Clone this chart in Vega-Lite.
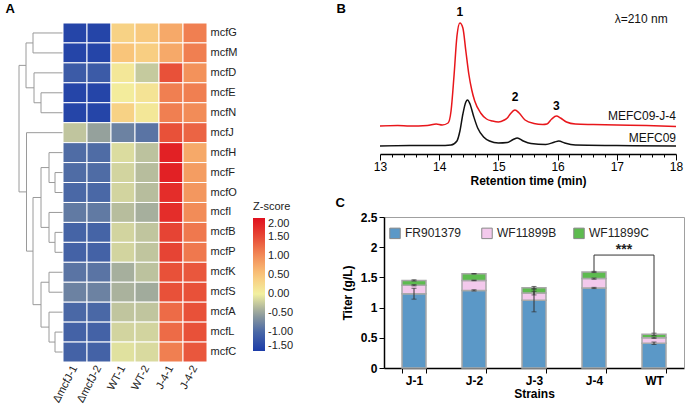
{
  "$schema": "https://vega.github.io/schema/vega-lite/v6.json",
  "width": 685,
  "height": 417,
  "padding": 0,
  "config": {
    "font": "Liberation Sans",
    "view": {"stroke": null},
    "axis": {"grid": false, "domainColor": "#000", "tickColor": "#000", "labelColor": "#000", "titleColor": "#000"}
  },
  "datasets": {
    "titer": [
      {"strain": "J-1", "compound": "FR901379", "order": 1, "value": 1.23, "err": 0.09},
      {"strain": "J-1", "compound": "WF11899B", "order": 2, "value": 0.14, "err": 0.01},
      {"strain": "J-1", "compound": "WF11899C", "order": 3, "value": 0.08, "err": 0.01},
      {"strain": "J-2", "compound": "FR901379", "order": 1, "value": 1.285, "err": 0.01},
      {"strain": "J-2", "compound": "WF11899B", "order": 2, "value": 0.165, "err": 0.005},
      {"strain": "J-2", "compound": "WF11899C", "order": 3, "value": 0.11, "err": 0.005},
      {"strain": "J-3", "compound": "FR901379", "order": 1, "value": 1.12, "err": 0.19},
      {"strain": "J-3", "compound": "WF11899B", "order": 2, "value": 0.12, "err": 0.03},
      {"strain": "J-3", "compound": "WF11899C", "order": 3, "value": 0.09, "err": 0.02},
      {"strain": "J-4", "compound": "FR901379", "order": 1, "value": 1.325, "err": 0.01},
      {"strain": "J-4", "compound": "WF11899B", "order": 2, "value": 0.155, "err": 0.01},
      {"strain": "J-4", "compound": "WF11899C", "order": 3, "value": 0.11, "err": 0.01},
      {"strain": "WT", "compound": "FR901379", "order": 1, "value": 0.41, "err": 0.02},
      {"strain": "WT", "compound": "WF11899B", "order": 2, "value": 0.09, "err": 0.01},
      {"strain": "WT", "compound": "WF11899C", "order": 3, "value": 0.057, "err": 0.02}
    ]
  },
  "resolve": {
    "scale": {"x": "independent", "y": "independent", "color": "independent", "stroke": "independent", "fill": "independent"},
    "axis": {"x": "independent", "y": "independent"}
  },
  "layer": [
    {
      "data": {"values": [
        {"h1": 0, "h2": 30, "r1": 0.5, "r2": 0.5}, {"h1": 0, "h2": 30, "r1": 1.5, "r2": 1.5}, {"h1": 30, "h2": 30, "r1": 0.5, "r2": 1.5},
        {"h1": 0, "h2": 22, "r1": 3.5, "r2": 3.5}, {"h1": 0, "h2": 22, "r1": 4.5, "r2": 4.5}, {"h1": 22, "h2": 22, "r1": 3.5, "r2": 4.5},
        {"h1": 0, "h2": 29, "r1": 2.5, "r2": 2.5}, {"h1": 22, "h2": 29, "r1": 4.0, "r2": 4.0}, {"h1": 29, "h2": 29, "r1": 2.5, "r2": 4.0},
        {"h1": 30, "h2": 37, "r1": 1.0, "r2": 1.0}, {"h1": 29, "h2": 37, "r1": 3.25, "r2": 3.25}, {"h1": 37, "h2": 37, "r1": 1.0, "r2": 3.25},
        {"h1": 0, "h2": 8, "r1": 7.5, "r2": 7.5}, {"h1": 0, "h2": 8, "r1": 8.5, "r2": 8.5}, {"h1": 8, "h2": 8, "r1": 7.5, "r2": 8.5},
        {"h1": 0, "h2": 14, "r1": 6.5, "r2": 6.5}, {"h1": 8, "h2": 14, "r1": 8.0, "r2": 8.0}, {"h1": 14, "h2": 14, "r1": 6.5, "r2": 8.0},
        {"h1": 0, "h2": 8, "r1": 10.5, "r2": 10.5}, {"h1": 0, "h2": 8, "r1": 11.5, "r2": 11.5}, {"h1": 8, "h2": 8, "r1": 10.5, "r2": 11.5},
        {"h1": 0, "h2": 14, "r1": 9.5, "r2": 9.5}, {"h1": 8, "h2": 14, "r1": 11.0, "r2": 11.0}, {"h1": 14, "h2": 14, "r1": 9.5, "r2": 11.0},
        {"h1": 14, "h2": 22, "r1": 7.25, "r2": 7.25}, {"h1": 14, "h2": 22, "r1": 10.25, "r2": 10.25}, {"h1": 22, "h2": 22, "r1": 7.25, "r2": 10.25},
        {"h1": 0, "h2": 14, "r1": 12.5, "r2": 12.5}, {"h1": 0, "h2": 14, "r1": 13.5, "r2": 13.5}, {"h1": 14, "h2": 14, "r1": 12.5, "r2": 13.5},
        {"h1": 0, "h2": 8, "r1": 15.5, "r2": 15.5}, {"h1": 0, "h2": 8, "r1": 16.5, "r2": 16.5}, {"h1": 8, "h2": 8, "r1": 15.5, "r2": 16.5},
        {"h1": 0, "h2": 14, "r1": 14.5, "r2": 14.5}, {"h1": 8, "h2": 14, "r1": 16.0, "r2": 16.0}, {"h1": 14, "h2": 14, "r1": 14.5, "r2": 16.0},
        {"h1": 14, "h2": 22, "r1": 13.0, "r2": 13.0}, {"h1": 14, "h2": 22, "r1": 15.25, "r2": 15.25}, {"h1": 22, "h2": 22, "r1": 13.0, "r2": 15.25},
        {"h1": 22, "h2": 30, "r1": 8.75, "r2": 8.75}, {"h1": 22, "h2": 30, "r1": 14.125, "r2": 14.125}, {"h1": 30, "h2": 30, "r1": 8.75, "r2": 14.125},
        {"h1": 0, "h2": 36.5, "r1": 5.5, "r2": 5.5}, {"h1": 30, "h2": 36.5, "r1": 11.44, "r2": 11.44}, {"h1": 36.5, "h2": 36.5, "r1": 5.5, "r2": 11.44},
        {"h1": 37, "h2": 44, "r1": 2.125, "r2": 2.125}, {"h1": 36.5, "h2": 44, "r1": 8.47, "r2": 8.47}, {"h1": 44, "h2": 44, "r1": 2.125, "r2": 8.47}
      ]},
      "mark": {"type": "rule", "color": "#9a9a9a", "strokeWidth": 1},
      "encoding": {
        "x": {"field": "h1", "type": "quantitative", "scale": {"domain": [0, 45], "range": [63, 18], "nice": false, "zero": false},
              "axis": {"orient": "top", "offset": 0, "domain": false, "ticks": false, "labels": false, "title": "A", "titleX": 5, "titleY": 12, "titleAlign": "left", "titleBaseline": "alphabetic", "titleFontSize": 13, "titleFontWeight": "bold", "titleAngle": 0}},
        "x2": {"field": "h2"},
        "y": {"field": "r1", "type": "quantitative", "scale": {"domain": [0, 17], "range": [23, 362], "nice": false, "zero": false}, "axis": null},
        "y2": {"field": "r2"}
      }
    },
    {
      "data": {"values": [
        {"g": "mcfG", "s": "ΔmcfJ-1", "z": -1.4}, {"g": "mcfG", "s": "ΔmcfJ-2", "z": -1.4}, {"g": "mcfG", "s": "WT-1", "z": 0.35}, {"g": "mcfG", "s": "WT-2", "z": 0.45}, {"g": "mcfG", "s": "J-4-1", "z": 0.75}, {"g": "mcfG", "s": "J-4-2", "z": 1.1},
        {"g": "mcfM", "s": "ΔmcfJ-1", "z": -1.4}, {"g": "mcfM", "s": "ΔmcfJ-2", "z": -1.4}, {"g": "mcfM", "s": "WT-1", "z": 0.5}, {"g": "mcfM", "s": "WT-2", "z": 0.4}, {"g": "mcfM", "s": "J-4-1", "z": 0.75}, {"g": "mcfM", "s": "J-4-2", "z": 1.1},
        {"g": "mcfD", "s": "ΔmcfJ-1", "z": -1.15}, {"g": "mcfD", "s": "ΔmcfJ-2", "z": -1.15}, {"g": "mcfD", "s": "WT-1", "z": 0.1}, {"g": "mcfD", "s": "WT-2", "z": -0.25}, {"g": "mcfD", "s": "J-4-1", "z": 1.45}, {"g": "mcfD", "s": "J-4-2", "z": 0.95},
        {"g": "mcfE", "s": "ΔmcfJ-1", "z": -1.4}, {"g": "mcfE", "s": "ΔmcfJ-2", "z": -1.4}, {"g": "mcfE", "s": "WT-1", "z": 0.05}, {"g": "mcfE", "s": "WT-2", "z": 0.15}, {"g": "mcfE", "s": "J-4-1", "z": 1.1}, {"g": "mcfE", "s": "J-4-2", "z": 1.1},
        {"g": "mcfN", "s": "ΔmcfJ-1", "z": -1.4}, {"g": "mcfN", "s": "ΔmcfJ-2", "z": -1.4}, {"g": "mcfN", "s": "WT-1", "z": 0.35}, {"g": "mcfN", "s": "WT-2", "z": 0.1}, {"g": "mcfN", "s": "J-4-1", "z": 1.1}, {"g": "mcfN", "s": "J-4-2", "z": 1.0},
        {"g": "mcfJ", "s": "ΔmcfJ-1", "z": -0.28}, {"g": "mcfJ", "s": "ΔmcfJ-2", "z": -0.52}, {"g": "mcfJ", "s": "WT-1", "z": -0.78}, {"g": "mcfJ", "s": "WT-2", "z": -0.9}, {"g": "mcfJ", "s": "J-4-1", "z": 1.45}, {"g": "mcfJ", "s": "J-4-2", "z": 1.3},
        {"g": "mcfH", "s": "ΔmcfJ-1", "z": -0.97}, {"g": "mcfH", "s": "ΔmcfJ-2", "z": -0.97}, {"g": "mcfH", "s": "WT-1", "z": -0.13}, {"g": "mcfH", "s": "WT-2", "z": -0.3}, {"g": "mcfH", "s": "J-4-1", "z": 1.85}, {"g": "mcfH", "s": "J-4-2", "z": 0.75},
        {"g": "mcfF", "s": "ΔmcfJ-1", "z": -0.97}, {"g": "mcfF", "s": "ΔmcfJ-2", "z": -0.97}, {"g": "mcfF", "s": "WT-1", "z": -0.18}, {"g": "mcfF", "s": "WT-2", "z": -0.33}, {"g": "mcfF", "s": "J-4-1", "z": 1.85}, {"g": "mcfF", "s": "J-4-2", "z": 0.85},
        {"g": "mcfO", "s": "ΔmcfJ-1", "z": -1.0}, {"g": "mcfO", "s": "ΔmcfJ-2", "z": -1.0}, {"g": "mcfO", "s": "WT-1", "z": -0.18}, {"g": "mcfO", "s": "WT-2", "z": -0.33}, {"g": "mcfO", "s": "J-4-1", "z": 1.75}, {"g": "mcfO", "s": "J-4-2", "z": 0.9},
        {"g": "mcfI", "s": "ΔmcfJ-1", "z": -0.85}, {"g": "mcfI", "s": "ΔmcfJ-2", "z": -0.85}, {"g": "mcfI", "s": "WT-1", "z": -0.33}, {"g": "mcfI", "s": "WT-2", "z": -0.42}, {"g": "mcfI", "s": "J-4-1", "z": 1.75}, {"g": "mcfI", "s": "J-4-2", "z": 1.0},
        {"g": "mcfB", "s": "ΔmcfJ-1", "z": -1.05}, {"g": "mcfB", "s": "ΔmcfJ-2", "z": -1.05}, {"g": "mcfB", "s": "WT-1", "z": -0.18}, {"g": "mcfB", "s": "WT-2", "z": -0.28}, {"g": "mcfB", "s": "J-4-1", "z": 1.55}, {"g": "mcfB", "s": "J-4-2", "z": 1.15},
        {"g": "mcfP", "s": "ΔmcfJ-1", "z": -1.07}, {"g": "mcfP", "s": "ΔmcfJ-2", "z": -1.07}, {"g": "mcfP", "s": "WT-1", "z": -0.18}, {"g": "mcfP", "s": "WT-2", "z": -0.28}, {"g": "mcfP", "s": "J-4-1", "z": 1.55}, {"g": "mcfP", "s": "J-4-2", "z": 1.15},
        {"g": "mcfK", "s": "ΔmcfJ-1", "z": -0.9}, {"g": "mcfK", "s": "ΔmcfJ-2", "z": -0.9}, {"g": "mcfK", "s": "WT-1", "z": -0.42}, {"g": "mcfK", "s": "WT-2", "z": -0.3}, {"g": "mcfK", "s": "J-4-1", "z": 1.45}, {"g": "mcfK", "s": "J-4-2", "z": 1.4},
        {"g": "mcfS", "s": "ΔmcfJ-1", "z": -0.78}, {"g": "mcfS", "s": "ΔmcfJ-2", "z": -0.78}, {"g": "mcfS", "s": "WT-1", "z": -0.4}, {"g": "mcfS", "s": "WT-2", "z": -0.45}, {"g": "mcfS", "s": "J-4-1", "z": 1.45}, {"g": "mcfS", "s": "J-4-2", "z": 1.45},
        {"g": "mcfA", "s": "ΔmcfJ-1", "z": -1.0}, {"g": "mcfA", "s": "ΔmcfJ-2", "z": -1.0}, {"g": "mcfA", "s": "WT-1", "z": -0.28}, {"g": "mcfA", "s": "WT-2", "z": -0.28}, {"g": "mcfA", "s": "J-4-1", "z": 1.25}, {"g": "mcfA", "s": "J-4-2", "z": 1.45},
        {"g": "mcfL", "s": "ΔmcfJ-1", "z": -1.07}, {"g": "mcfL", "s": "ΔmcfJ-2", "z": -1.07}, {"g": "mcfL", "s": "WT-1", "z": -0.18}, {"g": "mcfL", "s": "WT-2", "z": -0.18}, {"g": "mcfL", "s": "J-4-1", "z": 1.25}, {"g": "mcfL", "s": "J-4-2", "z": 1.45},
        {"g": "mcfC", "s": "ΔmcfJ-1", "z": -1.07}, {"g": "mcfC", "s": "ΔmcfJ-2", "z": -1.07}, {"g": "mcfC", "s": "WT-1", "z": -0.1}, {"g": "mcfC", "s": "WT-2", "z": -0.14}, {"g": "mcfC", "s": "J-4-1", "z": 1.1}, {"g": "mcfC", "s": "J-4-2", "z": 1.4}
      ]},
      "mark": {"type": "rect", "stroke": "#ffffff", "strokeWidth": 1},
      "encoding": {
        "x": {"field": "s", "type": "nominal", "sort": ["ΔmcfJ-1", "ΔmcfJ-2", "WT-1", "WT-2", "J-4-1", "J-4-2"], "scale": {"range": [63, 207], "paddingInner": 0, "paddingOuter": 0},
              "axis": {"orient": "bottom", "offset": -55, "title": null, "labelAngle": -62, "labelAlign": "right", "labelBaseline": "middle", "labelFontSize": 11, "labelColor": "#222", "domain": false, "ticks": false, "labelPadding": 4}},
        "y": {"field": "g", "type": "nominal", "sort": ["mcfG", "mcfM", "mcfD", "mcfE", "mcfN", "mcfJ", "mcfH", "mcfF", "mcfO", "mcfI", "mcfB", "mcfP", "mcfK", "mcfS", "mcfA", "mcfL", "mcfC"], "scale": {"range": [23, 362], "paddingInner": 0, "paddingOuter": 0},
              "axis": {"orient": "right", "offset": -478, "title": null, "domain": false, "ticks": false, "labelFontSize": 11, "labelColor": "#222", "labelPadding": 3}},
        "color": {"field": "z", "type": "quantitative",
                  "scale": {"domain": [-1.5, -1.0, -0.5, 0, 0.5, 1.0, 1.5, 2.0], "range": ["#1c3ca8", "#4a68a6", "#98a39c", "#f2f0a0", "#f9c57a", "#f28c58", "#e74a36", "#e0101e"], "interpolate": "rgb"},
                  "legend": {"title": "Z-score", "orient": "none", "legendX": 253, "legendY": 201, "direction": "vertical", "gradientLength": 133, "gradientThickness": 12, "values": [-1.5, -1, -0.5, 0.000001, 0.5, 1, 1.5, 2],
                             "labelExpr": "replace(format(datum.value, '.2f'), '\u2212', '-')", "labelOverlap": false, "labelFontSize": 11, "labelColor": "#222", "titleFontSize": 11, "titleColor": "#222", "titleFontWeight": "normal", "gradientStrokeWidth": 0, "labelOffset": 3, "titlePadding": 6}}
      }
    },
    {
      "data": {"values": [
        {"s": "MEFC09-J-4", "t": 13.0, "v": 20}, {"s": "MEFC09-J-4", "t": 13.3, "v": 20.5}, {"s": "MEFC09-J-4", "t": 13.5, "v": 20}, {"s": "MEFC09-J-4", "t": 13.8, "v": 20.5},
        {"s": "MEFC09-J-4", "t": 13.95, "v": 22}, {"s": "MEFC09-J-4", "t": 14.05, "v": 21}, {"s": "MEFC09-J-4", "t": 14.15, "v": 23}, {"s": "MEFC09-J-4", "t": 14.2, "v": 35},
        {"s": "MEFC09-J-4", "t": 14.25, "v": 70}, {"s": "MEFC09-J-4", "t": 14.3, "v": 110}, {"s": "MEFC09-J-4", "t": 14.35, "v": 123}, {"s": "MEFC09-J-4", "t": 14.4, "v": 118},
        {"s": "MEFC09-J-4", "t": 14.45, "v": 95}, {"s": "MEFC09-J-4", "t": 14.5, "v": 72}, {"s": "MEFC09-J-4", "t": 14.55, "v": 56}, {"s": "MEFC09-J-4", "t": 14.6, "v": 45},
        {"s": "MEFC09-J-4", "t": 14.7, "v": 33}, {"s": "MEFC09-J-4", "t": 14.8, "v": 27}, {"s": "MEFC09-J-4", "t": 14.9, "v": 25}, {"s": "MEFC09-J-4", "t": 15.0, "v": 24},
        {"s": "MEFC09-J-4", "t": 15.1, "v": 26}, {"s": "MEFC09-J-4", "t": 15.15, "v": 28}, {"s": "MEFC09-J-4", "t": 15.2, "v": 32}, {"s": "MEFC09-J-4", "t": 15.28, "v": 36},
        {"s": "MEFC09-J-4", "t": 15.35, "v": 33}, {"s": "MEFC09-J-4", "t": 15.45, "v": 26}, {"s": "MEFC09-J-4", "t": 15.6, "v": 22.5}, {"s": "MEFC09-J-4", "t": 15.75, "v": 21.5},
        {"s": "MEFC09-J-4", "t": 15.82, "v": 22}, {"s": "MEFC09-J-4", "t": 15.9, "v": 27}, {"s": "MEFC09-J-4", "t": 15.98, "v": 30}, {"s": "MEFC09-J-4", "t": 16.05, "v": 28},
        {"s": "MEFC09-J-4", "t": 16.15, "v": 24}, {"s": "MEFC09-J-4", "t": 16.3, "v": 22}, {"s": "MEFC09-J-4", "t": 16.6, "v": 21.5}, {"s": "MEFC09-J-4", "t": 17.0, "v": 21},
        {"s": "MEFC09-J-4", "t": 17.5, "v": 20.5}, {"s": "MEFC09-J-4", "t": 18.0, "v": 19.5},
        {"s": "MEFC09", "t": 13.0, "v": 0}, {"s": "MEFC09", "t": 13.5, "v": 0.5}, {"s": "MEFC09", "t": 14.0, "v": 0.5}, {"s": "MEFC09", "t": 14.2, "v": 1},
        {"s": "MEFC09", "t": 14.3, "v": 5}, {"s": "MEFC09", "t": 14.35, "v": 15}, {"s": "MEFC09", "t": 14.4, "v": 32}, {"s": "MEFC09", "t": 14.45, "v": 44},
        {"s": "MEFC09", "t": 14.48, "v": 46}, {"s": "MEFC09", "t": 14.52, "v": 42}, {"s": "MEFC09", "t": 14.58, "v": 30}, {"s": "MEFC09", "t": 14.65, "v": 18},
        {"s": "MEFC09", "t": 14.75, "v": 9}, {"s": "MEFC09", "t": 14.85, "v": 5}, {"s": "MEFC09", "t": 15.0, "v": 3}, {"s": "MEFC09", "t": 15.15, "v": 3.5},
        {"s": "MEFC09", "t": 15.25, "v": 6.5}, {"s": "MEFC09", "t": 15.32, "v": 8}, {"s": "MEFC09", "t": 15.42, "v": 5}, {"s": "MEFC09", "t": 15.55, "v": 2.5},
        {"s": "MEFC09", "t": 15.8, "v": 1.5}, {"s": "MEFC09", "t": 15.95, "v": 4}, {"s": "MEFC09", "t": 16.02, "v": 5}, {"s": "MEFC09", "t": 16.12, "v": 3},
        {"s": "MEFC09", "t": 16.3, "v": 1}, {"s": "MEFC09", "t": 17.0, "v": 0.5}, {"s": "MEFC09", "t": 18.0, "v": 0}
      ]},
      "mark": {"type": "line", "strokeWidth": 1.5, "interpolate": "monotone"},
      "encoding": {
        "x": {"field": "t", "type": "quantitative", "scale": {"domain": [13, 18], "range": [380, 676], "nice": false, "zero": false},
              "axis": {"orient": "bottom", "offset": -263, "title": "Retention time (min)", "titleFontWeight": "bold", "titleFontSize": 12, "labelFontSize": 12,
                       "values": [13, 14, 15, 16, 17, 18], "format": "d", "tickSize": 6, "domainWidth": 1.5, "tickWidth": 1, "labelFlush": false, "labelPadding": 1, "titlePadding": 3}},
        "y": {"field": "v", "type": "quantitative", "scale": {"domain": [-8, 123], "range": [154, 23], "nice": false, "zero": false},
              "axis": {"orient": "left", "offset": -380, "domain": false, "ticks": false, "labels": false, "title": "B", "titleAngle": 0, "titleX": -44, "titleY": 12, "titleAlign": "left", "titleBaseline": "alphabetic", "titleFontSize": 13, "titleFontWeight": "bold"}},
        "stroke": {"field": "s", "type": "nominal", "scale": {"domain": ["MEFC09-J-4", "MEFC09"], "range": ["#e8161b", "#111111"]}, "legend": null}
      }
    },
    {
      "data": {"values": [
        {"t": 14.35, "v": 130, "txt": "1"}, {"t": 15.28, "v": 45, "txt": "2"}, {"t": 15.98, "v": 36, "txt": "3"}
      ]},
      "mark": {"type": "text", "fontSize": 12, "fontWeight": "bold", "align": "center", "baseline": "alphabetic", "color": "#000"},
      "encoding": {
        "x": {"field": "t", "type": "quantitative", "scale": {"domain": [13, 18], "range": [380, 676], "nice": false, "zero": false},
              "axis": {"orient": "bottom", "offset": -263, "title": null, "labels": false, "domain": false, "tickSize": 3, "tickWidth": 1,
                       "values": [13.2, 13.4, 13.6, 13.8, 14.2, 14.4, 14.6, 14.8, 15.2, 15.4, 15.6, 15.8, 16.2, 16.4, 16.6, 16.8, 17.2, 17.4, 17.6, 17.8]}},
        "y": {"field": "v", "type": "quantitative", "scale": {"domain": [-8, 123], "range": [154, 23], "nice": false, "zero": false}, "axis": null},
        "text": {"field": "txt"}
      }
    },
    {
      "data": {"values": [
        {"t": 17.86, "v": 123, "txt": "λ=210 nm"}, {"t": 18, "v": 26, "txt": "MEFC09-J-4"}, {"t": 18, "v": 4, "txt": "MEFC09"}
      ]},
      "mark": {"type": "text", "fontSize": 12, "align": "right", "baseline": "alphabetic", "color": "#111"},
      "encoding": {
        "x": {"field": "t", "type": "quantitative", "scale": {"domain": [13, 18], "range": [380, 676], "nice": false, "zero": false}, "axis": null},
        "y": {"field": "v", "type": "quantitative", "scale": {"domain": [-8, 123], "range": [154, 23], "nice": false, "zero": false}, "axis": null},
        "text": {"field": "txt"}
      }
    },
    {
      "data": {"name": "titer"},
      "mark": {"type": "bar", "stroke": "#a8a8a8", "strokeWidth": 1.5},
      "encoding": {
        "x": {"field": "strain", "type": "nominal", "sort": ["J-1", "J-2", "J-3", "J-4", "WT"], "scale": {"range": [384, 684], "paddingInner": 0.6, "paddingOuter": 0.3},
              "axis": {"orient": "bottom", "offset": -49, "title": "Strains", "labelAngle": 0, "labelFontWeight": "bold", "labelFontSize": 12, "titleFontSize": 12, "titleFontWeight": "bold", "tickBand": "extent", "domainWidth": 1.5, "tickSize": 5, "titlePadding": 2, "labelPadding": 2}},
        "y": {"field": "value", "type": "quantitative", "stack": "zero", "scale": {"domain": [0, 2.5], "range": [368, 217], "nice": false},
              "axis": {"orient": "left", "offset": -384, "title": "Titer (g/L)", "values": [0, 0.5, 1, 1.5, 2, 2.5], "format": ".1~f", "labelFontWeight": "bold", "labelFontSize": 12, "titleFontWeight": "bold", "titleFontSize": 12, "domainWidth": 1.5, "tickSize": 5, "labelPadding": 2, "titlePadding": 6}},
        "fill": {"field": "compound", "type": "nominal", "scale": {"domain": ["FR901379", "WF11899B", "WF11899C"], "range": ["#5b98c7", "#f3c9ec", "#5dbb4f"]},
                 "legend": {"title": null, "orient": "none", "legendX": 389, "legendY": 227, "direction": "horizontal", "columns": 3, "gridAlign": "all", "symbolType": "square", "symbolSize": 110, "symbolStrokeColor": "#888", "symbolStrokeWidth": 1, "labelFontSize": 12, "labelColor": "#222", "columnPadding": 14, "labelOffset": 4}},
        "order": {"field": "order", "type": "quantitative"}
      }
    },
    {
      "data": {"name": "titer"},
      "transform": [{"stack": "value", "groupby": ["strain"], "sort": [{"field": "order", "order": "ascending"}], "as": ["v0", "v1"]}],
      "mark": {"type": "errorbar", "color": "#333", "ticks": {"size": 5}},
      "encoding": {
        "x": {"field": "strain", "type": "nominal", "sort": ["J-1", "J-2", "J-3", "J-4", "WT"], "scale": {"range": [384, 684], "paddingInner": 0.6, "paddingOuter": 0.3}, "axis": null},
        "y": {"field": "v1", "type": "quantitative", "scale": {"domain": [0, 2.5], "range": [368, 217], "nice": false}, "axis": null},
        "yError": {"field": "err"}
      }
    },
    {
      "data": {"values": [
        {"strain": "J-4", "y": 1.6, "k": 1}, {"strain": "J-4", "y": 1.87, "k": 2}, {"strain": "WT", "y": 1.87, "k": 3}, {"strain": "WT", "y": 0.58, "k": 4}
      ]},
      "mark": {"type": "line", "color": "#333", "strokeWidth": 1},
      "encoding": {
        "x": {"field": "strain", "type": "nominal", "sort": ["J-1", "J-2", "J-3", "J-4", "WT"], "scale": {"domain": ["J-1", "J-2", "J-3", "J-4", "WT"], "range": [384, 684], "paddingInner": 0.6, "paddingOuter": 0.3},
              "axis": {"orient": "top", "offset": -217, "domainColor": "#a0a0a0", "domainWidth": 1, "ticks": false, "labels": false, "title": "C", "titleX": 335, "titleY": -11, "titleAlign": "left", "titleBaseline": "alphabetic", "titleAngle": 0, "titleFontSize": 13, "titleFontWeight": "bold"}},
        "y": {"field": "y", "type": "quantitative", "scale": {"domain": [0, 2.5], "range": [368, 217], "nice": false},
              "axis": {"orient": "right", "offset": -1, "domainColor": "#a0a0a0", "domainWidth": 1, "ticks": false, "labels": false, "title": null}},
        "order": {"field": "k", "type": "quantitative"}
      }
    },
    {
      "data": {"values": [{"strain": "J-4", "y": 1.95, "label": "***"}]},
      "mark": {"type": "text", "dx": 30, "fontSize": 14, "fontWeight": "bold", "baseline": "middle", "color": "#222"},
      "encoding": {
        "x": {"field": "strain", "type": "nominal", "sort": ["J-1", "J-2", "J-3", "J-4", "WT"], "scale": {"domain": ["J-1", "J-2", "J-3", "J-4", "WT"], "range": [384, 684], "paddingInner": 0.6, "paddingOuter": 0.3}, "axis": null},
        "y": {"field": "y", "type": "quantitative", "scale": {"domain": [0, 2.5], "range": [368, 217], "nice": false}, "axis": null},
        "text": {"field": "label"}
      }
    }
  ]
}
